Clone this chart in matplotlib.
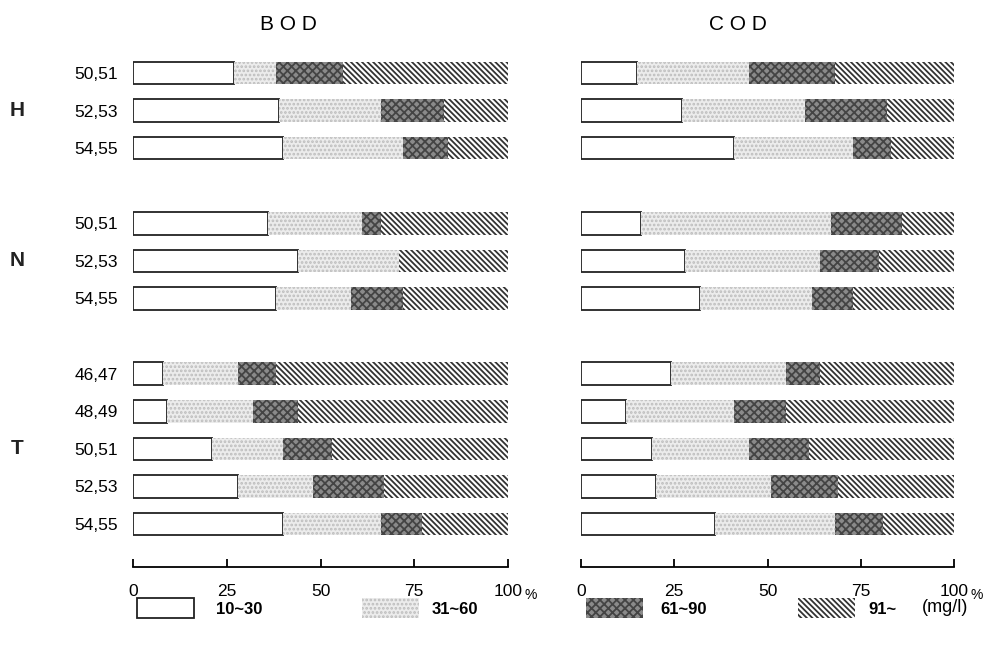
import matplotlib
matplotlib.use("Agg")
import matplotlib.pyplot as plt
from matplotlib.patches import Rectangle
from matplotlib.transforms import blended_transform_factory
import numpy as np

plt.rcParams['font.family'] = ['Liberation Sans', 'DejaVu Sans']
plt.rcParams['hatch.linewidth'] = 1.3

# ---------------- data ----------------
groups = ['H', 'N', 'T']
group_rows = [['50,51', '52,53', '54,55'],
              ['50,51', '52,53', '54,55'],
              ['46,47', '48,49', '50,51', '52,53', '54,55']]
classes = ['10~30', '31~60', '61~90', '91~']

bod_10_30 = [27, 39, 40, 36, 44, 38, 8, 9, 21, 28, 40]
bod_31_60 = [11, 27, 32, 25, 27, 20, 20, 23, 19, 20, 26]
bod_61_90 = [18, 17, 12, 5, 0, 14, 10, 12, 13, 19, 11]
bod_91 = [44, 17, 16, 34, 29, 28, 62, 56, 47, 33, 23]

cod_10_30 = [15, 27, 41, 16, 28, 32, 24, 12, 19, 20, 36]
cod_31_60 = [30, 33, 32, 51, 36, 30, 31, 29, 26, 31, 32]
cod_61_90 = [23, 22, 10, 19, 16, 11, 9, 14, 16, 18, 13]
cod_91 = [32, 18, 17, 14, 20, 27, 36, 45, 39, 31, 19]

xticks = [0, 25, 50, 75, 100]

# ---------------- styles ----------------
styles = [
    dict(facecolor='white', edgecolor='#222222', linewidth=1.3),
    dict(facecolor='#ececec', edgecolor='#bdbdbd', hatch='....', linewidth=0),
    dict(facecolor='#8a8a8a', edgecolor='#444444', hatch='xxxx', linewidth=0),
    dict(facecolor='white', edgecolor='#333333', hatch='\\\\\\\\\\\\', linewidth=0),
]

W, H = 999, 651
fig = plt.figure(figsize=(W / 100, H / 100), dpi=100)

# row positions
positions = []
labels = []
pos = 0
group_centers = []
for g, rows in zip(groups, group_rows):
    start = pos
    for r in rows:
        positions.append(pos)
        labels.append(r)
        pos += 1
    group_centers.append((start + pos - 1) / 2)
    pos += 1
positions = np.array(positions, dtype=float)

top_px, bot_px = 73, 524
row_px = (bot_px - top_px) / (positions[-1] - positions[0])
ax_top, ax_bot = 40, 567
ylim_top = -(top_px - ax_top) / row_px
ylim_bot = positions[-1] + (ax_bot - bot_px) / row_px


def make_axes(x0, x1):
    return fig.add_axes([x0 / W, 1 - ax_bot / H, (x1 - x0) / W, (ax_bot - ax_top) / H])


panels = [
    ('B O D', make_axes(133, 508), [bod_10_30, bod_31_60, bod_61_90, bod_91], 288),
    ('C O D', make_axes(581, 954), [cod_10_30, cod_31_60, cod_61_90, cod_91], 738),
]

for idx, (title, ax, series, tx) in enumerate(panels):
    left = np.zeros(len(positions))
    for vals, st in zip(series, styles):
        vals = np.array(vals, dtype=float)
        ax.barh(positions, vals, left=left, height=0.6, **st)
        left += vals
    ax.set_xlim(0, 100)
    ax.set_ylim(ylim_bot, ylim_top)
    for s in ['top', 'right', 'left']:
        ax.spines[s].set_visible(False)
    ax.spines['bottom'].set_linewidth(1.3)
    ax.set_xticks(xticks)
    ax.set_xticklabels([str(t) for t in xticks], fontsize=12.5)
    ax.tick_params(axis='x', direction='in', length=6, width=1.3, pad=12)
    if idx == 0:
        ax.set_yticks(positions)
        ax.set_yticklabels(labels, fontsize=12.5)
        ax.tick_params(axis='y', length=0, pad=11)
    else:
        ax.set_yticks([])
    ax.annotate('%', xy=(1, 0), xycoords='axes fraction', xytext=(12, -20),
                textcoords='offset points', fontsize=10, ha='left', va='center')
    fig.text(tx / W, 1 - 24 / H, title, fontsize=15, ha='center', va='center')

# group labels
ax0 = panels[0][1]
tr = blended_transform_factory(fig.transFigure, ax0.transData)
for g, c in zip(groups, group_centers):
    ax0.text(17 / W, c, g, transform=tr, fontsize=15, fontweight='bold',
             ha='center', va='center', color='#222222')

# legend
leg_boxes = [137, 362, 586, 798]
leg_text_x = [216, 432, 660, 868]
ly0, ly1 = 598, 618
for bx, txx, st, lab in zip(leg_boxes, leg_text_x, styles, classes):
    rect = Rectangle((bx / W, 1 - ly1 / H), 57 / W, (ly1 - ly0) / H,
                     transform=fig.transFigure, **st)
    fig.patches.append(rect)
    fig.text(txx / W, 1 - 609 / H, lab, fontsize=12, fontweight='bold',
             ha='left', va='center')
fig.text(922 / W, 1 - 607 / H, '(mg/l)', fontsize=13, ha='left', va='center')

fig.savefig('out.png', dpi=100)
